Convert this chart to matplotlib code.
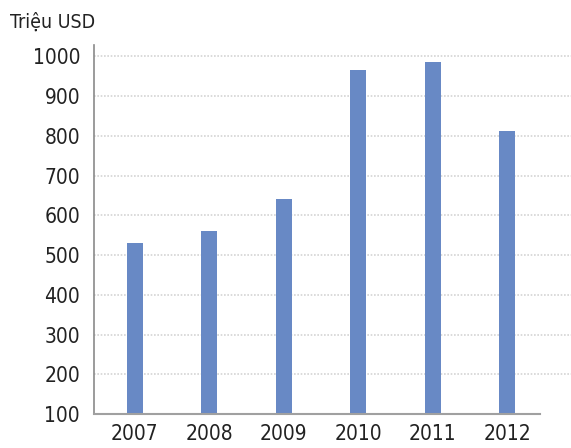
import matplotlib.pyplot as plt
import numpy as np

# --- Data ---
years = ['2007', '2008', '2009', '2010', '2011', '2012']
values = [530, 560, 640, 967, 987, 813]
y_ticks = [100, 200, 300, 400, 500, 600, 700, 800, 900, 1000]

plt.rcParams['font.family'] = ['DejaVu Sans']
plt.rcParams['font.stretch'] = 'condensed'

fig = plt.figure(figsize=(5.71, 4.48), dpi=100)
ax = fig.add_axes([0.1646, 0.0759, 0.8354, 0.8237])

x = np.arange(len(years))
ax.bar(x, values, width=0.215, bottom=0, color='#6889c5', zorder=3)

ax.set_xlim(-0.546, 5.856)
ax.set_ylim(100, 1029)

ax.set_xticks(x)
ax.set_xticklabels(years, fontsize=15, color='#222222')
ax.set_yticks(y_ticks)
ax.set_yticklabels([str(v) for v in y_ticks], fontsize=15, color='#222222')
ax.tick_params(axis='both', length=0)
ax.tick_params(axis='y', pad=10)
ax.tick_params(axis='x', pad=7)

# dotted grid lines
for v in y_ticks[1:]:
    ax.axhline(v, color='#d4d4d4', linestyle=(0, (1, 1)), linewidth=1.2, zorder=1)

# axis lines
for s in ['top', 'right', 'bottom']:
    ax.spines[s].set_visible(False)
ax.spines['left'].set_color('#8a8a8a')
ax.spines['left'].set_linewidth(1.2)
ax.axhline(100, xmin=0, xmax=0.935, color='#a0a0a0', linewidth=1.5, zorder=4, clip_on=False)

fig.text(0.017, 0.95, 'Triệu USD', fontsize=14, color='#222222', va='center', ha='left')

plt.savefig('out.png', dpi=100)
